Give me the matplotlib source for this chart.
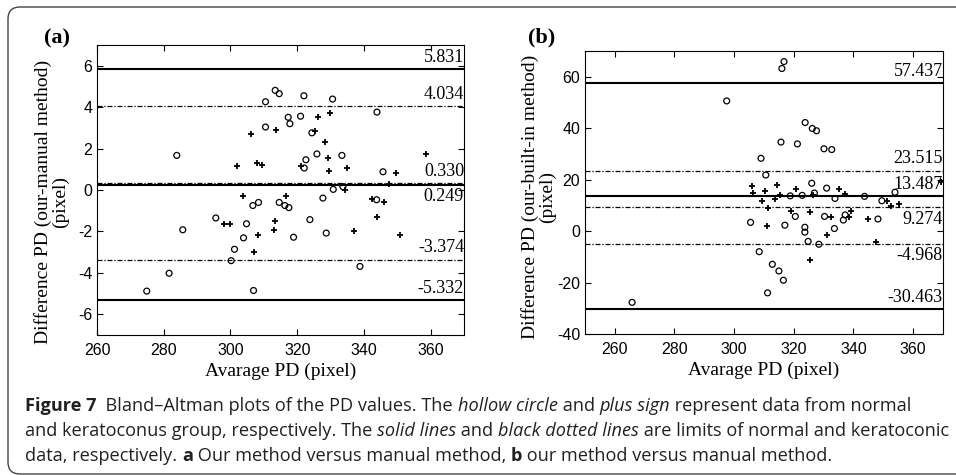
import matplotlib
matplotlib.use('Agg')
import matplotlib.pyplot as plt
from matplotlib.patches import FancyBboxPatch
from matplotlib.transforms import IdentityTransform

# (a) our method vs manual method
a_circle_x = [283.9, 310.5, 313.4, 314.6, 322.0, 330.6, 343.9, 310.5, 317.3, 317.8,
              321.0, 324.4, 325.9, 322.6, 322.1, 333.4, 345.7, 330.8, 333.7, 274.9,
              281.6, 285.7, 295.6, 301.2, 300.2, 303.9, 304.8, 306.7, 308.4, 306.9,
              314.6, 316.3, 317.5, 318.9, 323.8, 327.7, 328.7, 338.8, 343.8]
a_circle_y = [1.67, 4.26, 4.81, 4.65, 4.55, 4.39, 3.76, 3.04, 3.51, 3.20,
              3.56, 2.76, 1.74, 1.46, 1.06, 1.67, 0.88, 0.03, 0.16, -4.88,
              -4.02, -1.92, -1.35, -2.86, -3.41, -2.31, -1.63, -0.75, -0.60, -4.85,
              -0.60, -0.75, -0.85, -2.28, -1.43, -0.39, -2.08, -3.69, -0.47]
a_plus_x = [302.1, 306.1, 307.8, 309.5, 313.6, 321.2, 325.4, 326.3, 329.8, 328.3,
            329.1, 329.5, 334.9, 349.7, 358.7, 347.5, 334.3, 303.6, 298.2, 299.8,
            308.2, 307.0, 313.0, 313.4, 316.5, 337.0, 342.3, 343.8, 345.9, 350.7]
a_plus_y = [1.14, 2.71, 1.30, 1.20, 2.89, 1.14, 2.85, 3.54, 3.74, 2.34,
            1.56, 0.91, 1.06, 0.80, 1.74, 0.29, 0.00, -0.28, -1.66, -1.63,
            -2.16, -2.99, -1.95, -1.51, -0.28, -1.98, -0.42, -1.28, -0.57, -2.16]
a_solid = [5.831, 0.249, -5.332]
a_dashed = [4.034, 0.330, -3.374]

# (b) our method vs built-in method
b_circle_x = [316.7, 316.0, 297.5, 323.8, 326.2, 327.6, 315.7, 321.2, 330.1, 332.7,
              309.0, 310.6, 326.0, 331.0, 305.5, 308.4, 312.8, 315.0, 316.5, 311.2,
              265.8, 317.0, 320.5, 318.8, 322.8, 323.7, 323.7, 324.8, 328.4, 326.9,
              330.3, 333.6, 333.8, 336.6, 337.2, 343.7, 348.2, 349.5, 353.9]
b_circle_y = [65.9, 63.2, 50.6, 42.2, 39.9, 39.0, 34.6, 33.9, 32.0, 31.7,
              28.3, 21.8, 18.6, 16.7, 3.4, -8.0, -12.9, -15.5, -19.1, -24.0,
              -27.7, 2.3, 5.7, 13.7, 13.9, 1.5, -0.4, -4.0, -5.1, 14.8,
              5.7, 1.0, 12.7, 4.3, 6.3, 13.5, 4.7, 11.8, 15.1]
b_plus_x = [306.1, 306.4, 310.3, 314.4, 320.7, 313.7, 315.4, 309.2, 311.4, 310.9,
            319.2, 325.3, 326.5, 335.1, 337.0, 331.0, 332.6, 338.5, 339.2, 344.8,
            347.5, 325.4, 351.2, 352.5, 355.4, 369.3]
b_plus_y = [17.7, 14.9, 15.5, 18.1, 16.5, 12.6, 14.0, 11.7, 9.0, 1.8,
            8.0, 7.4, 14.2, 16.5, 14.4, -1.5, 5.4, 5.6, 7.7, 4.9,
            -4.2, -11.3, 11.7, 9.7, 10.7, 19.0]
b_solid = [57.437, 13.487, -30.463]
b_dashed = [23.515, 9.274, -4.968]

plt.rcParams['axes.unicode_minus'] = False
plt.rcParams['xtick.direction'] = 'in'
plt.rcParams['ytick.direction'] = 'in'

SERIF = ['Liberation Serif', 'DejaVu Serif']
SANS = ['Liberation Sans', 'DejaVu Sans']
DASHDOT = (0, (4, 1.5, 1, 1.5))

fig = plt.figure(figsize=(9.56, 4.75), dpi=100)

# panel frame
frame = FancyBboxPatch((8, 1), 990, 467, boxstyle='round,pad=0,rounding_size=12',
                       transform=IdentityTransform(), fill=False,
                       edgecolor='#444444', linewidth=1.0)
fig.patches.append(frame)


def bland_altman(ax, cx, cy, px, py, solid, dashed, below, xlim, ylim, yticks, ylabel, label_xy):
    ax.scatter(cx, cy, marker='o', s=18, facecolors='none', edgecolors='black', linewidths=0.9, zorder=3)
    ax.scatter(px, py, marker='+', s=24, color='black', linewidths=1.3, zorder=3)
    for v in solid:
        ax.axhline(v, color='black', linewidth=1.5, zorder=2)
    for v in dashed:
        ax.axhline(v, color='black', linewidth=0.9, linestyle=DASHDOT, zorder=2)
    ax.set_xlim(*xlim)
    ax.set_ylim(*ylim)
    off = (ylim[1] - ylim[0]) * 0.012
    for v in solid + dashed:
        if v in below:
            ax.text(xlim[1], v - off, f'{v:.3f}', ha='right', va='top',
                    family=SERIF, fontsize=13)
        else:
            ax.text(xlim[1], v + off, f'{v:.3f}', ha='right', va='bottom',
                    family=SERIF, fontsize=13)
    ax.set_xticks([260, 280, 300, 320, 340, 360])
    ax.set_yticks(yticks)
    ax.tick_params(top=True, right=True, length=4, width=0.8, labelsize=11.5)
    ax.tick_params(axis='x', pad=6)
    for lab in ax.get_xticklabels() + ax.get_yticklabels():
        lab.set_family(SANS)
    for s in ax.spines.values():
        s.set_linewidth(0.8)
    ax.set_xlabel('Avarage PD (pixel)', family=SERIF, fontsize=14, labelpad=3)
    ax.set_ylabel(ylabel, family=SERIF, fontsize=14, linespacing=1.0)
    ax.yaxis.set_label_coords(*label_xy)


ax1 = fig.add_axes([0.1015, 0.2947, 0.3839, 0.6106])
bland_altman(ax1, a_circle_x, a_circle_y, a_plus_x, a_plus_y, a_solid, a_dashed,
             [0.249], (260, 370), (-7, 7), [-6, -4, -2, 0, 2, 4, 6],
             'Difference PD (our-manual method)\n(pixel)', (-0.076, 0.46))

ax2 = fig.add_axes([0.6119, 0.2968, 0.3745, 0.5958])
bland_altman(ax2, b_circle_x, b_circle_y, b_plus_x, b_plus_y, b_solid, b_dashed,
             [9.274, -4.968], (250, 370), (-40, 70), [-40, -20, 0, 20, 40, 60],
             'Difference PD (our-built-in method)\n(pixel)', (-0.08, 0.485))

fig.text(57 / 956, 1 - 38 / 475, '(a)', family=SERIF, fontsize=16, fontweight='bold',
         ha='center', va='center')
fig.text(542 / 956, 1 - 37 / 475, '(b)', family=SERIF, fontsize=16, fontweight='bold',
         ha='center', va='center')

# caption, drawn piece by piece so bold and italic words can sit inline
caption = [
    [('Figure 7', 'bold'), ('  Bland\u2013Altman plots of the PD values. The ', 'normal'),
     ('hollow circle', 'italic'), (' and ', 'normal'), ('plus sign', 'italic'),
     (' represent data from normal', 'normal')],
    [('and keratoconus group, respectively. The ', 'normal'), ('solid lines', 'italic'),
     (' and ', 'normal'), ('black dotted lines', 'italic'),
     (' are limits of normal and keratoconic', 'normal')],
    [('data, respectively. ', 'normal'), ('a', 'bold'),
     (' Our method versus manual method, ', 'normal'), ('b', 'bold'),
     (' our method versus manual method.', 'normal')],
]
CAP_FONT = ['Open Sans', 'DejaVu Sans']
renderer = fig.canvas.get_renderer()


def draw_line(segments, x0, y0, size):
    x = x0
    arts = []
    for txt, style in segments:
        kw = dict(family=CAP_FONT, fontsize=size, color='#231f20', va='baseline', ha='left',
                  transform=IdentityTransform())
        if style == 'bold':
            kw['fontweight'] = 'bold'
        elif style == 'italic':
            kw['style'] = 'italic'
        t = fig.text(x, y0, txt, **kw)
        arts.append(t)
        x += t.get_window_extent(renderer).width
    return x, arts


# fit first line to its width in the reference
end, arts = draw_line(caption[0], 25, 475 - 411, 12)
for a in arts:
    a.remove()
cap_size = 12 * (909 - 25) / (end - 25)

for i, line in enumerate(caption):
    draw_line(line, 25, 475 - (411 + 25 * i), cap_size)

fig.savefig('out.png', dpi=100)
